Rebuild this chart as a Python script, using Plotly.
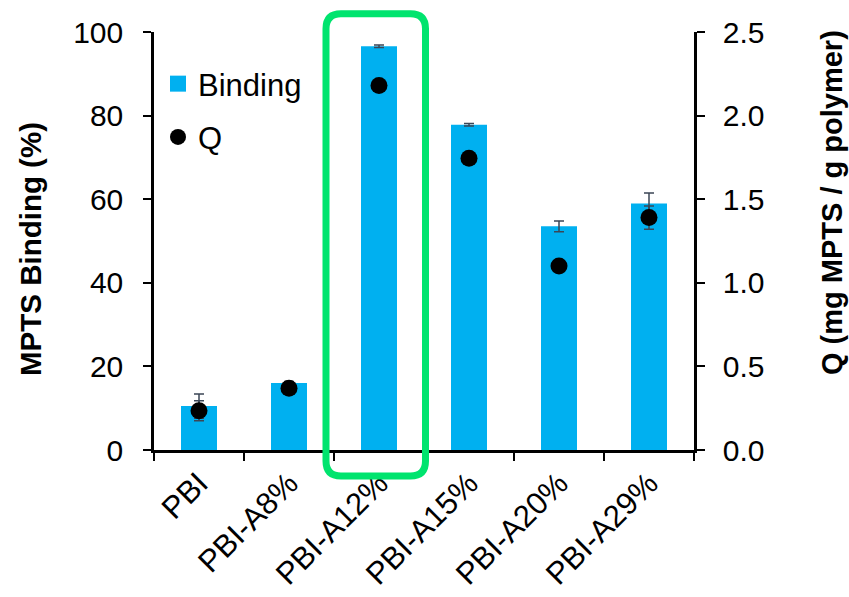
import plotly.graph_objects as go

# Samples and measured values
categories = ["PBI", "PBI-A8%", "PBI-A12%", "PBI-A15%", "PBI-A20%", "PBI-A29%"]
binding = [10.5, 16.0, 96.6, 77.8, 53.5, 59.0]          # MPTS binding (%)
binding_err = [2.9, 0.4, 0.3, 0.3, 1.3, 2.5]
q_values = [0.235, 0.37, 2.18, 1.745, 1.10, 1.39]       # mg MPTS / g polymer
q_err = [0.06, 0.02, 0.02, 0.02, 0.02, 0.07]

left_ticks = [0, 20, 40, 60, 80, 100]
right_ticks = [0.0, 0.5, 1.0, 1.5, 2.0, 2.5]

FONT = "Liberation Sans, Arial, sans-serif"
BAR_BLUE = "#00B0F0"
ERR_COLOR = "#3B4656"
HIGHLIGHT = "#00E46E"

W, H = 849, 597
M_L, M_R, M_T, M_B = 154, 155, 32, 147
PW = W - M_L - M_R
PH = H - M_T - M_B


def px_x(px):
    """Figure pixel column -> paper x."""
    return (px - M_L) / PW


def px_y(py):
    """Figure pixel row -> paper y."""
    return (M_T + PH - py) / PH


fig = go.Figure()

fig.add_trace(go.Bar(
    x=categories, y=binding, name="Binding",
    marker=dict(color=BAR_BLUE, line=dict(width=0)),
    error_y=dict(type="data", array=binding_err, visible=True,
                 color=ERR_COLOR, thickness=1.5, width=5),
    showlegend=False, yaxis="y",
))

fig.add_trace(go.Scatter(
    x=categories, y=q_values, name="Q", mode="markers",
    marker=dict(color="black", size=17),
    error_y=dict(type="data", array=q_err, visible=True,
                 color=ERR_COLOR, thickness=1.5, width=5),
    showlegend=False, yaxis="y2",
))

# Legend entries (square swatch for the bars, dot for Q)
fig.add_trace(go.Scatter(
    x=[None], y=[None], mode="markers", name="Binding",
    marker=dict(symbol="square", color=BAR_BLUE, size=16),
    legendgroup="b", legendrank=1,
))
fig.add_trace(go.Scatter(
    x=[None], y=[None], mode="markers", name="Q",
    marker=dict(color="black", size=16),
    legendgroup="q", legendrank=2,
))

axis_common = dict(
    showline=True, linecolor="black", linewidth=2.5,
    ticks="outside", ticklen=8, tickwidth=2, tickcolor="black",
    showgrid=False, zeroline=False, automargin=False,
    tickfont=dict(family=FONT, size=30, color="black"),
)

fig.update_layout(
    width=W, height=H,
    margin=dict(l=M_L, r=M_R, t=M_T, b=M_B, autoexpand=False),
    plot_bgcolor="white", paper_bgcolor="white",
    bargap=0.6,
    font=dict(family=FONT, color="black"),
    xaxis=dict(
        **{**axis_common, "tickfont": dict(family=FONT, size=31, color="black")},
        tickangle=-45, tickson="boundaries",
    ),
    yaxis=dict(
        **axis_common, range=[0, 100], tickvals=left_ticks,
        ticklabelstandoff=14,
    ),
    yaxis2=dict(
        **axis_common, range=[0, 2.5], tickvals=right_ticks,
        tickformat=".1f", overlaying="y", side="right",
        ticklabelstandoff=12,
    ),
    legend=dict(
        x=px_x(158), y=px_y(57), xanchor="left", yanchor="top",
        font=dict(family=FONT, size=31),
        traceorder="grouped", tracegroupgap=10,
        bgcolor="rgba(0,0,0,0)",
    ),
    showlegend=True,
)

# Axis titles
fig.add_annotation(
    text="<b>MPTS Binding (%)</b>", textangle=-90,
    x=px_x(30), y=px_y(249), xref="paper", yref="paper",
    xanchor="center", yanchor="middle", showarrow=False,
    font=dict(family=FONT, size=29.5, color="black"),
)
fig.add_annotation(
    text="<b>Q (mg MPTS / g polymer)</b>", textangle=-90,
    x=px_x(832), y=px_y(203), xref="paper", yref="paper",
    xanchor="center", yanchor="middle", showarrow=False,
    font=dict(family=FONT, size=29, color="black"),
)

# Rounded highlight frame around the PBI-A12% column
x0, x1 = px_x(326), px_x(425.5)
y0, y1 = px_y(476), px_y(13.7)
rx, ry = 15 / PW, 15 / PH
path = (
    f"M {x0 + rx} {y1} L {x1 - rx} {y1} Q {x1} {y1} {x1} {y1 - ry} "
    f"L {x1} {y0 + ry} Q {x1} {y0} {x1 - rx} {y0} "
    f"L {x0 + rx} {y0} Q {x0} {y0} {x0} {y0 + ry} "
    f"L {x0} {y1 - ry} Q {x0} {y1} {x0 + rx} {y1} Z"
)
fig.add_shape(type="path", path=path, xref="paper", yref="paper",
              line=dict(color=HIGHLIGHT, width=7), fillcolor="rgba(0,0,0,0)",
              layer="above")

fig.write_html("out.html")
